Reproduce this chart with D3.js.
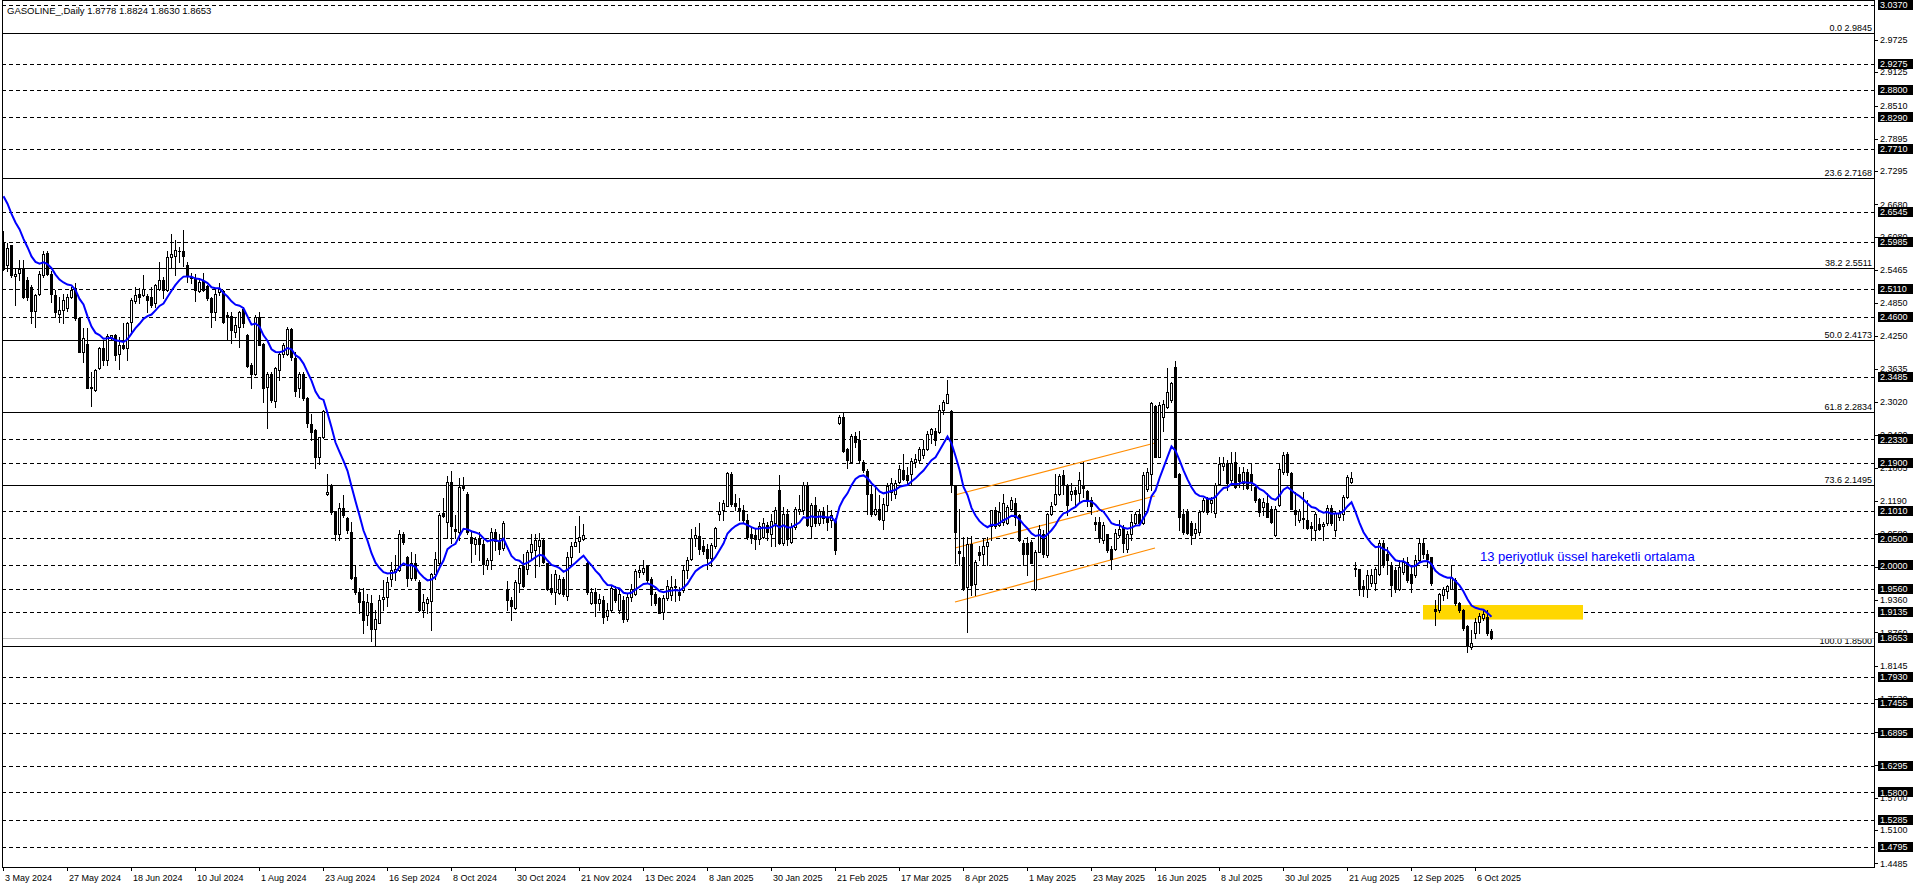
<!DOCTYPE html>
<html><head><meta charset="utf-8">
<script src="https://cdn.jsdelivr.net/npm/d3@7"></script>
<style>body{margin:0;background:#fff;overflow:hidden}svg{display:block}</style>
</head><body>
<svg id="c" width="1916" height="888"></svg>
<script>
const opens = [2.596,2.556,2.592,2.536,2.542,2.548,2.529,2.516,2.470,2.502,2.537,2.579,2.540,2.500,2.466,2.473,2.476,2.497,2.513,2.457,
2.394,2.410,2.331,2.325,2.365,2.402,2.381,2.423,2.426,2.392,2.408,2.402,2.451,2.490,2.502,2.500,2.499,2.497,2.485,2.511,
2.528,2.510,2.571,2.573,2.581,2.582,2.555,2.534,2.531,2.508,2.526,2.517,2.494,2.468,2.505,2.508,2.463,2.462,2.432,2.442,
2.474,2.426,2.371,2.354,2.460,2.410,2.331,2.355,2.305,2.361,2.392,2.392,2.437,2.383,2.329,2.355,2.309,2.261,2.250,2.200,
2.237,2.132,2.147,2.100,2.058,2.106,2.087,2.062,1.978,1.951,1.935,1.908,1.931,1.882,1.894,1.937,1.942,1.974,1.988,1.991,
2.058,2.015,1.976,2.005,1.970,1.917,1.931,1.935,1.985,2.004,2.097,2.081,2.155,2.067,2.062,2.147,2.133,2.053,2.040,2.048,
2.040,2.001,2.010,2.062,2.046,2.032,1.956,1.936,1.921,1.967,1.998,1.993,2.025,2.028,2.035,2.047,2.004,1.959,1.951,1.949,
1.974,1.943,2.016,2.036,2.046,2.048,2.005,1.931,1.951,1.931,1.936,1.906,1.917,1.957,1.917,1.936,1.900,1.941,1.948,1.988,
1.988,1.998,1.974,1.948,1.939,1.914,1.939,1.945,1.960,1.950,1.954,1.991,2.011,2.050,2.054,2.035,2.030,2.013,2.035,2.095,
2.102,2.110,2.169,2.115,2.107,2.102,2.084,2.059,2.056,2.048,2.053,2.075,2.059,2.078,2.139,2.041,2.096,2.044,2.071,2.101,
2.102,2.149,2.072,2.112,2.078,2.100,2.087,2.084,2.083,2.263,2.275,2.215,2.192,2.239,2.232,2.192,2.175,2.132,2.096,2.104,
2.084,2.112,2.136,2.132,2.155,2.176,2.167,2.169,2.192,2.195,2.204,2.216,2.243,2.249,2.247,2.287,2.301,2.286,2.147,2.027,
2.016,1.960,2.040,1.965,2.024,2.021,2.035,2.072,2.102,2.075,2.080,2.079,2.105,2.116,2.093,2.041,2.041,2.044,1.957,2.025,
2.059,2.019,2.096,2.114,2.133,2.167,2.149,2.133,2.139,2.134,2.149,2.138,2.121,2.081,2.081,2.047,2.058,2.030,2.030,2.056,
2.070,2.030,2.059,2.078,2.096,2.078,2.142,2.170,2.295,2.201,2.274,2.294,2.306,2.368,2.170,2.096,2.101,2.078,2.060,2.062,
2.100,2.122,2.115,2.097,2.150,2.184,2.189,2.158,2.192,2.170,2.152,2.172,2.170,2.146,2.122,2.108,2.116,2.105,2.056,2.112,
2.173,2.206,2.171,2.102,2.084,2.087,2.084,2.072,2.065,2.077,2.072,2.078,2.106,2.065,2.090,2.096,2.127,2.155,1.995,1.993,
1.961,1.957,1.967,1.967,1.985,2.042,2.022,2.001,1.991,1.957,1.988,2.007,1.985,1.982,2.010,2.041,2.022,2.015,1.919,1.917,
1.945,1.952,1.957,1.973,1.930,1.917,1.887,1.849,1.874,1.896,1.902,1.905,1.8778];
const highs = [2.618,2.596,2.593,2.550,2.565,2.566,2.534,2.519,2.503,2.544,2.581,2.582,2.544,2.510,2.497,2.503,2.503,2.516,2.523,2.457,
2.439,2.439,2.358,2.364,2.405,2.417,2.429,2.427,2.429,2.423,2.449,2.451,2.494,2.515,2.513,2.537,2.503,2.516,2.521,2.562,
2.534,2.581,2.613,2.602,2.590,2.621,2.562,2.542,2.540,2.528,2.542,2.519,2.497,2.510,2.522,2.510,2.469,2.469,2.460,2.471,
2.479,2.428,2.374,2.463,2.468,2.411,2.358,2.358,2.368,2.395,2.411,2.442,2.439,2.394,2.358,2.357,2.312,2.280,2.252,2.238,
2.287,2.169,2.150,2.100,2.115,2.130,2.090,2.081,1.998,1.958,1.958,1.948,1.945,1.917,1.945,1.973,1.979,2.007,2.019,2.066,
2.062,2.017,2.024,2.022,1.973,1.948,1.942,1.986,2.025,2.097,2.124,2.165,2.175,2.093,2.161,2.164,2.136,2.061,2.053,2.061,
2.047,2.013,2.069,2.067,2.059,2.083,1.972,1.942,1.973,2.001,2.022,2.028,2.058,2.058,2.060,2.050,2.005,1.985,1.991,1.982,
1.979,2.025,2.044,2.072,2.091,2.077,2.007,1.959,1.959,1.948,1.943,1.930,1.961,1.961,1.955,1.943,1.948,1.966,1.994,1.998,
2.010,2.001,1.979,1.951,1.942,1.945,1.973,1.980,1.975,1.960,2.000,2.016,2.068,2.071,2.078,2.047,2.039,2.041,2.071,2.118,
2.121,2.173,2.173,2.133,2.124,2.112,2.096,2.071,2.067,2.080,2.087,2.081,2.096,2.108,2.167,2.108,2.105,2.078,2.108,2.130,
2.155,2.155,2.115,2.127,2.104,2.108,2.111,2.102,2.087,2.278,2.283,2.217,2.243,2.247,2.249,2.195,2.178,2.147,2.149,2.130,
2.124,2.152,2.161,2.158,2.186,2.207,2.183,2.198,2.207,2.220,2.232,2.249,2.254,2.254,2.297,2.306,2.343,2.287,2.149,2.105,
2.053,2.053,2.054,2.010,2.035,2.050,2.053,2.103,2.108,2.118,2.133,2.112,2.127,2.124,2.096,2.047,2.052,2.047,2.028,2.075,
2.065,2.097,2.118,2.169,2.170,2.176,2.151,2.152,2.146,2.173,2.192,2.140,2.127,2.090,2.090,2.081,2.059,2.035,2.068,2.084,
2.075,2.064,2.096,2.099,2.105,2.173,2.180,2.303,2.297,2.303,2.306,2.365,2.340,2.379,2.171,2.105,2.105,2.082,2.078,2.102,
2.124,2.126,2.127,2.153,2.200,2.201,2.195,2.210,2.210,2.183,2.183,2.178,2.189,2.151,2.124,2.124,2.134,2.109,2.109,2.188,
2.210,2.210,2.173,2.136,2.105,2.136,2.121,2.081,2.099,2.087,2.081,2.112,2.112,2.099,2.102,2.130,2.167,2.173,2.007,1.994,
1.973,1.991,1.994,1.997,2.047,2.047,2.034,2.007,1.997,2.010,2.013,2.016,1.997,2.019,2.050,2.050,2.028,2.016,1.936,1.949,
1.960,1.964,2.001,1.976,1.933,1.920,1.890,1.880,1.902,1.911,1.918,1.917,1.8824];
const lows = [2.547,2.544,2.534,2.482,2.528,2.494,2.491,2.448,2.442,2.500,2.534,2.537,2.488,2.460,2.451,2.448,2.471,2.494,2.454,2.394,
2.377,2.328,2.295,2.323,2.363,2.371,2.371,2.417,2.380,2.363,2.401,2.380,2.429,2.485,2.486,2.498,2.468,2.479,2.479,2.510,
2.494,2.507,2.550,2.537,2.562,2.554,2.525,2.523,2.490,2.506,2.507,2.491,2.442,2.454,2.500,2.448,2.417,2.411,2.423,2.405,
2.442,2.368,2.329,2.352,2.407,2.303,2.255,2.303,2.294,2.343,2.386,2.390,2.380,2.313,2.312,2.306,2.257,2.232,2.180,2.188,
2.235,2.130,2.096,2.047,2.047,2.090,2.060,1.974,1.948,1.912,1.874,1.890,1.861,1.851,1.893,1.917,1.924,1.961,1.973,1.990,
2.040,1.961,1.973,1.973,1.915,1.904,1.911,1.880,1.974,2.001,2.089,2.050,2.041,2.050,2.047,2.140,2.058,2.007,2.022,2.010,
1.984,1.993,1.993,2.028,2.022,2.028,1.917,1.899,1.919,1.951,1.960,1.985,2.010,1.979,1.998,2.005,1.954,1.948,1.929,1.948,
1.943,1.936,1.998,2.035,2.025,2.047,1.948,1.929,1.906,1.917,1.894,1.899,1.914,1.933,1.912,1.895,1.897,1.935,1.945,1.979,
1.985,1.970,1.927,1.927,1.911,1.900,1.936,1.936,1.935,1.936,1.951,1.976,2.010,2.035,2.021,2.021,1.993,1.998,2.032,2.084,
2.084,2.109,2.110,2.102,2.084,2.079,2.048,2.042,2.030,2.040,2.050,2.047,2.035,2.036,2.039,2.038,2.038,2.041,2.068,2.096,
2.096,2.072,2.050,2.073,2.075,2.078,2.065,2.071,2.022,2.262,2.210,2.180,2.190,2.220,2.192,2.173,2.096,2.091,2.093,2.084,
2.068,2.102,2.121,2.124,2.152,2.158,2.149,2.149,2.183,2.192,2.199,2.213,2.226,2.223,2.245,2.281,2.300,2.136,2.004,2.000,
1.954,1.877,1.945,1.945,2.010,2.000,2.000,2.047,2.069,2.072,2.075,2.076,2.102,2.075,2.046,2.000,1.982,2.004,1.955,2.024,
2.016,2.016,2.093,2.112,2.130,2.133,2.093,2.121,2.109,2.118,2.127,2.109,2.096,2.065,2.044,2.041,2.025,1.994,2.029,2.053,
2.025,2.025,2.047,2.077,2.075,2.077,2.138,2.140,2.200,2.200,2.248,2.292,2.303,2.163,2.065,2.059,2.058,2.040,2.050,2.056,
2.098,2.096,2.099,2.089,2.149,2.176,2.139,2.155,2.143,2.146,2.142,2.142,2.139,2.118,2.091,2.093,2.089,2.079,2.054,2.110,
2.170,2.167,2.104,2.075,2.081,2.070,2.067,2.047,2.047,2.065,2.047,2.075,2.075,2.054,2.084,2.084,2.124,2.152,1.980,1.945,
1.943,1.941,1.961,1.954,1.982,1.997,1.985,1.943,1.951,1.954,1.985,1.970,1.951,1.979,2.007,2.013,1.997,1.964,1.889,1.914,
1.936,1.939,1.956,1.927,1.914,1.880,1.840,1.846,1.865,1.874,1.899,1.871,1.8630];
const closes = [2.548,2.587,2.537,2.539,2.548,2.497,2.496,2.470,2.500,2.539,2.576,2.539,2.503,2.468,2.473,2.491,2.497,2.510,2.457,2.395,
2.420,2.329,2.328,2.361,2.402,2.380,2.424,2.426,2.389,2.408,2.402,2.448,2.492,2.500,2.496,2.511,2.491,2.482,2.519,2.529,
2.510,2.571,2.576,2.584,2.582,2.573,2.537,2.531,2.510,2.525,2.510,2.494,2.468,2.503,2.511,2.451,2.459,2.436,2.445,2.469,
2.448,2.369,2.355,2.460,2.408,2.329,2.355,2.306,2.365,2.392,2.408,2.437,2.386,2.323,2.355,2.309,2.264,2.247,2.201,2.237,
2.286,2.135,2.098,2.058,2.107,2.093,2.065,1.976,1.951,1.933,1.899,1.933,1.883,1.900,1.936,1.941,1.970,1.991,1.994,2.058,
2.044,1.976,2.005,1.976,1.917,1.933,1.937,1.984,2.011,2.093,2.091,2.155,2.072,2.064,2.146,2.143,2.061,2.042,2.048,2.040,
2.003,2.010,2.061,2.046,2.030,2.079,1.936,1.924,1.970,1.996,1.961,2.024,2.039,2.047,2.047,2.007,1.956,1.951,1.985,1.974,
1.947,2.015,2.036,2.044,2.053,2.056,1.951,1.951,1.931,1.937,1.905,1.917,1.959,1.936,1.948,1.900,1.941,1.957,1.990,1.992,
1.996,1.973,1.948,1.931,1.912,1.939,1.962,1.960,1.962,1.946,1.991,2.010,2.050,2.056,2.030,2.027,2.013,2.038,2.070,2.101,
2.116,2.171,2.113,2.109,2.102,2.084,2.053,2.050,2.048,2.073,2.079,2.062,2.083,2.102,2.041,2.096,2.048,2.071,2.104,2.104,
2.149,2.075,2.112,2.078,2.101,2.087,2.081,2.093,2.028,2.274,2.212,2.195,2.239,2.229,2.195,2.176,2.132,2.095,2.105,2.085,
2.113,2.147,2.152,2.152,2.179,2.159,2.158,2.194,2.196,2.215,2.216,2.244,2.252,2.232,2.287,2.303,2.318,2.149,2.062,2.023,
1.956,2.040,1.964,2.007,2.019,2.035,2.044,2.102,2.072,2.099,2.116,2.108,2.121,2.089,2.047,2.021,2.022,2.005,2.025,2.068,
2.022,2.096,2.109,2.133,2.165,2.149,2.112,2.138,2.133,2.158,2.143,2.121,2.109,2.077,2.050,2.075,2.028,2.011,2.060,2.068,
2.042,2.058,2.081,2.096,2.078,2.167,2.173,2.300,2.201,2.297,2.299,2.320,2.337,2.164,2.090,2.062,2.060,2.056,2.068,2.099,
2.121,2.099,2.121,2.149,2.188,2.190,2.152,2.190,2.146,2.157,2.173,2.143,2.155,2.121,2.099,2.117,2.090,2.081,2.105,2.178,
2.204,2.173,2.105,2.095,2.101,2.085,2.069,2.069,2.096,2.068,2.077,2.106,2.078,2.097,2.097,2.127,2.164,2.161,1.993,1.957,
1.957,1.982,1.982,1.994,2.042,2.002,2.010,1.964,1.957,1.997,2.007,1.973,1.967,2.010,2.042,2.022,2.011,1.967,1.915,1.947,
1.957,1.962,1.979,1.930,1.917,1.884,1.850,1.857,1.896,1.906,1.910,1.874,1.8653];

const emaPeriod = 13;
const emaStart = 2.683;

const dateLabels = ["3 May 2024","27 May 2024","18 Jun 2024","10 Jul 2024","1 Aug 2024","23 Aug 2024","16 Sep 2024","8 Oct 2024",
"30 Oct 2024","21 Nov 2024","13 Dec 2024","8 Jan 2025","30 Jan 2025","21 Feb 2025","17 Mar 2025","8 Apr 2025","1 May 2025",
"23 May 2025","16 Jun 2025","8 Jul 2025","30 Jul 2025","21 Aug 2025","12 Sep 2025","6 Oct 2025"];
const dateLabelBars = [0,16,32,48,64,80,96,112,128,144,160,176,192,208,224,240,256,272,288,304,320,336,352,368];

const priceTicks = [2.9725,2.9125,2.8510,2.7895,2.7295,2.6680,2.6080,2.5465,2.4850,2.4250,2.3635,2.3020,2.2420,2.1805,
2.1190,2.0580,1.9965,1.9360,1.8760,1.8145,1.7530,1.6915,1.6300,1.5700,1.5100,1.4485];
const levelPrices = [3.0370,2.9275,2.8800,2.8290,2.7710,2.6545,2.5985,2.5110,2.4600,2.3485,2.2330,2.1900,2.1010,2.0500,
2.0000,1.9560,1.9135,1.7930,1.7455,1.6895,1.6295,1.5800,1.5285,1.4795];
const fibRatios = ["0.0","23.6","38.2","50.0","61.8","73.6","100.0"];
const fibPrices = [2.9845,2.7168,2.5511,2.4173,2.2834,2.1495,1.8500];
const bidPrice = 1.8653;

const channelBars = [238, 288];
const channelUpper = [2.1303, 2.2265];
const channelMiddle = [2.0322, 2.1284];
const channelLower = [1.9322, 2.0322];

const zoneBars = [355, 395];
const zonePrices = [1.8998, 1.9267];

const noteText = "13 periyotluk üssel hareketli ortalama";
const noteBar = 369.25;
const notePrice = 2.0163;

const titleText = "GASOLINE_,Daily  1.8778 1.8824 1.8630 1.8653";

// ---------- drawing ----------
const svg = d3.select("#c");
const L = 2, R = 1874, T = 0, B = 867;
const x = d3.scaleLinear().domain([0, 467.75]).range([3, R]);
const y = d3.scaleLinear().domain([1.44191, 3.0444]).range([B, 1]);
const FONT = "'Liberation Sans', Arial, sans-serif";
const py = v => Math.round(y(v)) + 0.5;

svg.append("defs").append("clipPath").attr("id","plot")
  .append("rect").attr("x", L).attr("y", T).attr("width", R - L).attr("height", B - T);

const plot = svg.append("g").attr("clip-path","url(#plot)");

// level (dashed) lines
plot.selectAll("line.lvl").data(levelPrices).join("line")
  .attr("x1", L).attr("x2", R).attr("y1", d => py(d)).attr("y2", d => py(d))
  .attr("stroke","#000").attr("stroke-width",1).attr("stroke-dasharray","4,3")
  .attr("shape-rendering","crispEdges");

// fib lines
plot.selectAll("line.fib").data(fibPrices).join("line")
  .attr("x1", L).attr("x2", R).attr("y1", d => py(d)).attr("y2", d => py(d))
  .attr("stroke","#000").attr("stroke-width",1).attr("shape-rendering","crispEdges");
plot.selectAll("text.fib").data(fibPrices).join("text")
  .attr("x", R - 2).attr("y", d => Math.round(y(d)) - 2)
  .attr("text-anchor","end").attr("font-family",FONT).attr("font-size","9px").attr("fill","#000")
  .text((d,i) => fibRatios[i] + " " + d.toFixed(4));

// bid line
plot.append("line").attr("x1", L).attr("x2", R).attr("y1", py(bidPrice)).attr("y2", py(bidPrice))
  .attr("stroke","#c0c0c0").attr("stroke-width",1).attr("shape-rendering","crispEdges");

// zone rectangle
plot.append("rect")
  .attr("x", x(zoneBars[0])).attr("width", x(zoneBars[1]) - x(zoneBars[0]))
  .attr("y", y(zonePrices[1])).attr("height", y(zonePrices[0]) - y(zonePrices[1]))
  .attr("fill","#ffd700");

// channel lines
[channelUpper, channelMiddle, channelLower].forEach(p => {
  plot.append("line")
    .attr("x1", x(channelBars[0])).attr("y1", y(p[0]))
    .attr("x2", x(channelBars[1])).attr("y2", y(p[1]))
    .attr("stroke","#ff8c00").attr("stroke-width",1.2);
});

// candles
const idx = d3.range(closes.length);
const cg = plot.append("g").attr("shape-rendering","crispEdges");
idx.forEach(i => {
  const cx = Math.round(x(i));
  const o = opens[i], h = highs[i], l = lows[i], c = closes[i];
  const yh = Math.round(y(h)), yl = Math.round(y(l));
  cg.append("line").attr("x1", cx + 0.5).attr("x2", cx + 0.5).attr("y1", yh).attr("y2", yl + 1)
    .attr("stroke","#000").attr("stroke-width",1);
  const top = Math.round(y(Math.max(o, c))), bot = Math.round(y(Math.min(o, c)));
  if (c >= o) {
    if (bot - top < 2) {
      cg.append("rect").attr("x", cx - 1).attr("y", top).attr("width", 3).attr("height", Math.max(1, bot - top + 1)).attr("fill","#000");
    } else {
      cg.append("rect").attr("x", cx - 0.5).attr("y", top + 0.5).attr("width", 2).attr("height", bot - top)
        .attr("fill","#fff").attr("stroke","#000").attr("stroke-width",1);
    }
  } else {
    cg.append("rect").attr("x", cx - 1).attr("y", top).attr("width", 3).attr("height", Math.max(1, bot - top + 1)).attr("fill","#000");
  }
});

// EMA
const ema = [];
closes.forEach((c, i) => {
  ema.push(i === 0 ? emaStart : ema[i - 1] + (c - ema[i - 1]) * 2 / (emaPeriod + 1));
});
plot.append("path").datum(ema)
  .attr("d", d3.line().x((d, i) => x(i) + 0.5).y(d => y(d)))
  .attr("fill","none").attr("stroke","#0000ff").attr("stroke-width",2);

// note
plot.append("text").attr("x", x(noteBar)).attr("y", y(notePrice))
  .attr("dy","0.35em").attr("font-family",FONT).attr("font-size","13px").attr("fill","#0000ff")
  .text(noteText);

// title
svg.append("text").attr("x", 7).attr("y", 14).attr("font-family",FONT).attr("font-size","9.5px").attr("fill","#000")
  .text(titleText);

// frame
svg.append("rect").attr("x", L + 0.5).attr("y", T + 0.5).attr("width", R - L).attr("height", B - T)
  .attr("fill","none").attr("stroke","#000").attr("stroke-width",1).attr("shape-rendering","crispEdges");

// price axis
const ax = svg.append("g");
ax.selectAll("line.t").data(priceTicks).join("line")
  .attr("x1", R).attr("x2", R + 4).attr("y1", py).attr("y2", py)
  .attr("stroke","#000").attr("shape-rendering","crispEdges");
ax.selectAll("text.t").data(priceTicks).join("text")
  .attr("x", R + 6).attr("y", d => y(d)).attr("dy","0.35em")
  .attr("font-family",FONT).attr("font-size","9px").attr("fill","#000")
  .text(d => d.toFixed(4));
const hl = levelPrices.concat([bidPrice]);
ax.selectAll("rect.h").data(hl).join("rect")
  .attr("x", R + 4).attr("y", d => Math.round(y(d)) - 5).attr("width", 35).attr("height", 10)
  .attr("fill","#000");
ax.selectAll("text.h").data(hl).join("text")
  .attr("x", R + 6).attr("y", d => y(d)).attr("dy","0.35em")
  .attr("font-family",FONT).attr("font-size","9px").attr("fill","#fff")
  .text(d => d.toFixed(4));

// time axis
const tx = svg.append("g");
tx.selectAll("line").data(dateLabelBars).join("line")
  .attr("x1", d => Math.round(x(d)) + 0.5).attr("x2", d => Math.round(x(d)) + 0.5)
  .attr("y1", B).attr("y2", B + 4).attr("stroke","#000").attr("shape-rendering","crispEdges");
tx.selectAll("text").data(dateLabelBars).join("text")
  .attr("x", d => Math.round(x(d)) + 2).attr("y", 881)
  .attr("font-family",FONT).attr("font-size","9px").attr("fill","#000")
  .text((d, i) => dateLabels[i]);
</script>
</body></html>
